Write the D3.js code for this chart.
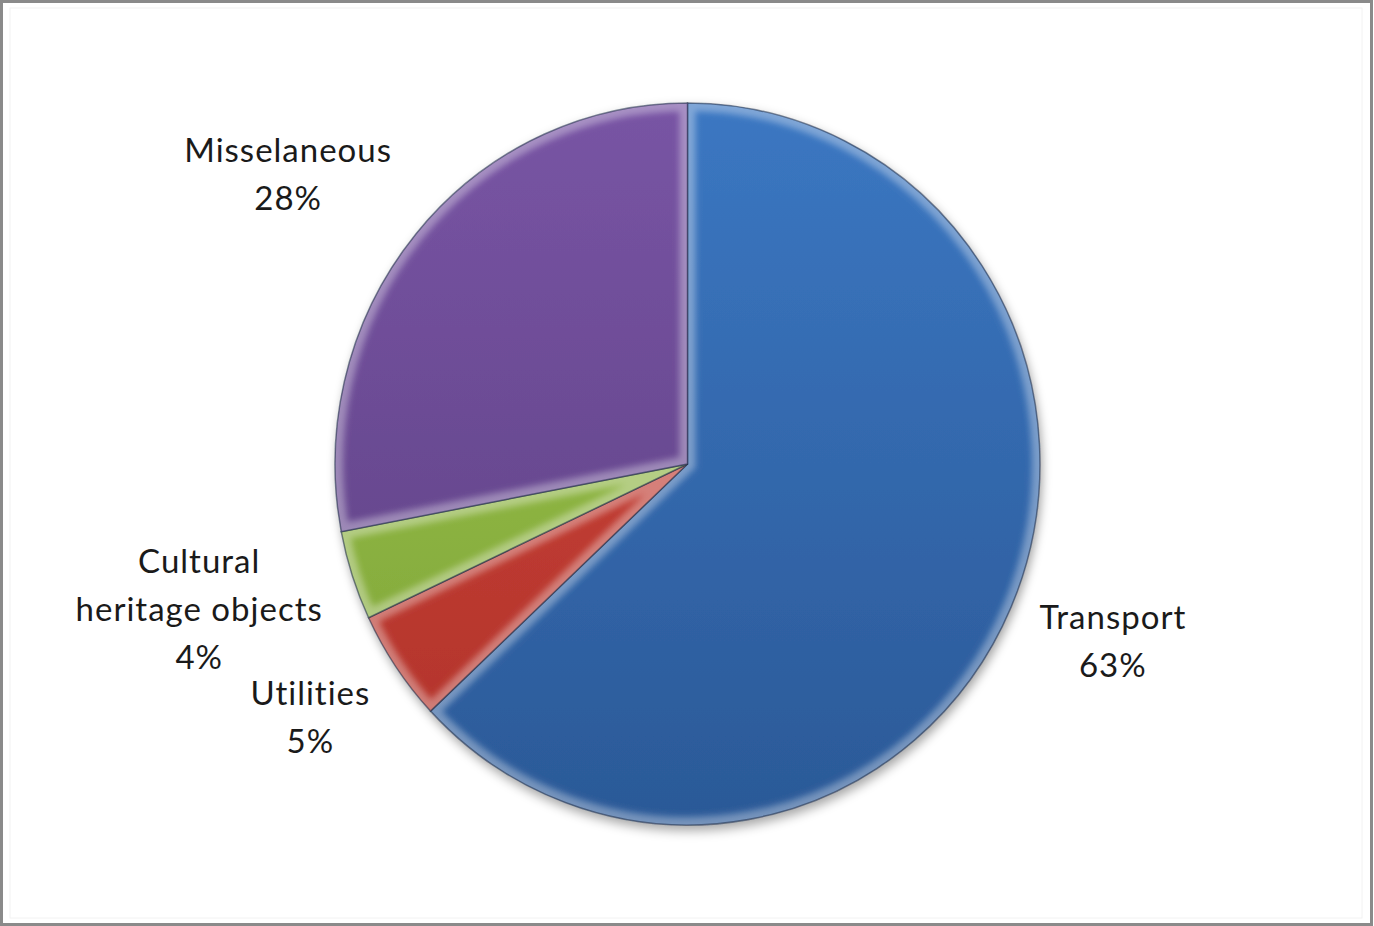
<!DOCTYPE html>
<html>
<head>
<meta charset="utf-8">
<script src="https://cdn.jsdelivr.net/npm/d3@7"></script>
<style>
  body { margin: 0; background: #fff; }
  svg { display: block; }
  text { font-variant-ligatures: none; font-feature-settings: "liga" 0; }
</style>
</head>
<body>
<div id="pie_chart"></div>
<script>
// data
var categories = ["Transport", "Utilities", "Cultural heritage objects", "Misselaneous"]
var values = [63, 5, 4, 28]
var labelLines = [["Transport"], ["Utilities"], ["Cultural", "heritage objects"], ["Misselaneous"]]
var colorsTop = ["#3b77c2", "#d0463a", "#9fc74f", "#7854a4"]
var colorsBottom = ["#2b5997", "#b0322a", "#7ca236", "#5c4181"]

var width = 1374
var height = 926
var cx = 687.5, cy = 464
var r = 352.5
var sy = 361 / 352.5
var fontSize = 33
var lineH = 48
var gap = 31

var svg = d3.select("#pie_chart").append("svg")
	.attr("width", width).attr("height", height)
	.attr("viewBox", [0, 0, width, height])

// frame
svg.append("rect")
	.attr("x", 1.5).attr("y", 1.5)
	.attr("width", width - 4).attr("height", height - 3)
	.attr("fill", "#fff").attr("stroke", "#8a8a8a").attr("stroke-width", 3)
svg.append("rect")
	.attr("x", 10).attr("y", 8)
	.attr("width", width - 22).attr("height", height - 16)
	.attr("fill", "none").attr("stroke", "#f2f2f2").attr("stroke-width", 1)

var defs = svg.append("defs")

var shadow = defs.append("filter").attr("id", "shadow")
	.attr("x", "-10%").attr("y", "-10%").attr("width", "125%").attr("height", "125%")
shadow.append("feDropShadow")
	.attr("dx", 2).attr("dy", 5).attr("stdDeviation", 5)
	.attr("flood-color", "#000").attr("flood-opacity", 0.35)

var blur = defs.append("filter").attr("id", "soft")
blur.append("feGaussianBlur").attr("stdDeviation", 3)

var pie = d3.pie().sort(null).value(d => d)
var arcs = pie(values)
var arc = d3.arc().innerRadius(0).outerRadius(r)

arcs.forEach(function(d, i){
	var g = defs.append("linearGradient").attr("id", "grad" + i)
		.attr("gradientUnits", "userSpaceOnUse")
		.attr("x1", 0).attr("y1", -r).attr("x2", 0).attr("y2", r)
	g.append("stop").attr("offset", 0).attr("stop-color", colorsTop[i])
	g.append("stop").attr("offset", 1).attr("stop-color", colorsBottom[i])
	defs.append("clipPath").attr("id", "clip" + i)
		.append("path").attr("d", arc(d))
})

var pieG = svg.append("g")
	.attr("transform", "translate(" + cx + "," + cy + ") scale(1," + sy + ")")
	.attr("filter", "url(#shadow)")

var slices = pieG.selectAll("g.slice")
	.data(arcs)
	.join("g")
	.attr("class", "slice")

slices.append("path")
	.attr("d", arc)
	.attr("fill", (d, i) => "url(#grad" + i + ")")

// bevel highlight inside the edges
slices.append("path")
	.attr("d", arc)
	.attr("fill", "none")
	.attr("stroke", "#fff")
	.attr("stroke-opacity", 0.35)
	.attr("stroke-width", 16)
	.attr("filter", "url(#soft)")
	.attr("clip-path", (d, i) => "url(#clip" + i + ")")

slices.append("path")
	.attr("d", arc)
	.attr("fill", "none")
	.attr("stroke", "#1b2a45")
	.attr("stroke-opacity", 0.55)
	.attr("stroke-width", 1.5)

// labels, placed just outside each slice along its mid angle
var labels = svg.append("g")
	.attr("font-family", "Lato, 'Open Sans', sans-serif")
	.attr("font-size", fontSize)
	.attr("letter-spacing", 1)
	.attr("fill", "#1a1a1a")
	.attr("text-anchor", "middle")

arcs.forEach(function(d, i){
	var lines = labelLines[i].concat([values[i] + "%"])
	var t = labels.append("text")
	t.selectAll("tspan")
		.data(lines)
		.join("tspan")
		.attr("x", 0)
		.attr("dy", (l, j) => j == 0 ? 0 : lineH)
		.text(l => l)
	var w = t.node().getBBox().width
	var h = lines.length * lineH
	var a = (d.startAngle + d.endAngle) / 2
	var s = Math.sin(a), c = Math.cos(a)
	var m = Math.max(Math.abs(s), Math.abs(c))
	var px = cx + s * (r + gap)
	var py = cy - c * (r + gap) * sy
	var lx = px + s / m * w / 2
	var ly = py - c / m * h / 2
	t.attr("transform", "translate(" + lx + "," + (ly - h / 2 + lineH / 2 + fontSize * 0.36) + ")")
})
</script>
</body>
</html>
